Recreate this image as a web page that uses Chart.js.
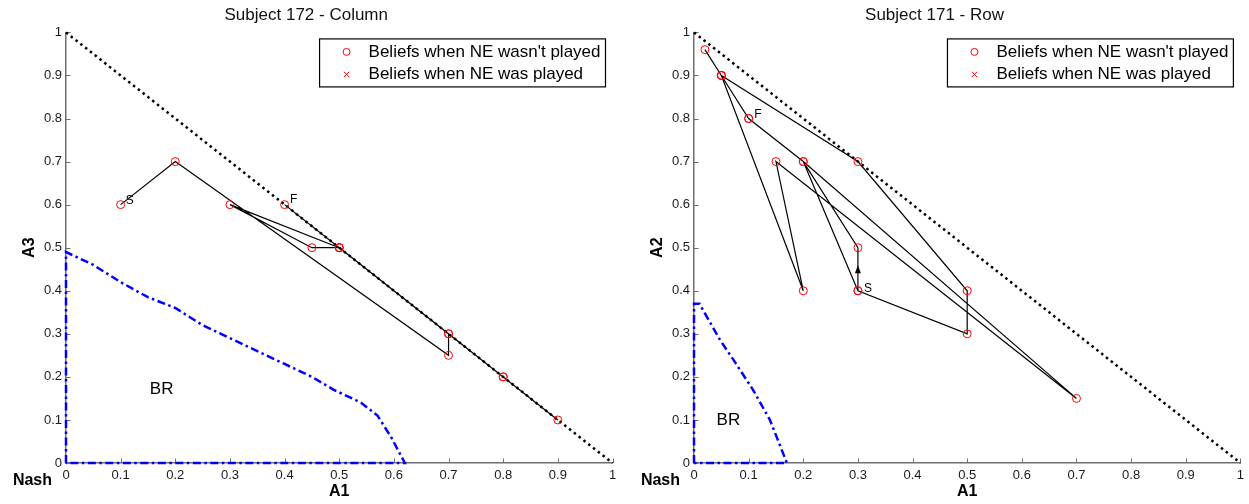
<!DOCTYPE html>
<html>
<head>
<meta charset="utf-8">
<script src="https://cdn.jsdelivr.net/npm/chart.js@4.4.1/dist/chart.umd.min.js"></script>
<style>
  html, body { margin: 0; padding: 0; background: #fff; }
  #wrap { display: flex; width: 1249px; height: 504px; }
  canvas { display: block; }
</style>
</head>
<body>
<div id="wrap">
  <canvas id="colChart" width="628" height="504"></canvas>
  <canvas id="rowChart" width="621" height="504"></canvas>
</div>
<script>
// ---------- shared ----------
const tickValues = [0, 0.1, 0.2, 0.3, 0.4, 0.5, 0.6, 0.7, 0.8, 0.9, 1];
const simplexX = [0, 1];
const simplexY = [1, 0];
const legendLabels = ["Beliefs when NE wasn't played", "Beliefs when NE was played"];

// ---------- Subject 172, column player ----------
const colTitle = 'Subject 172 - Column';
const colAxisX = 'A1';
const colAxisY = 'A3';
// belief trajectory, in the order the beliefs were formed (S first, F last)
const colPathA1 = [0.1, 0.2, 0.7, 0.7, 0.8, 0.9, 0.5, 0.8, 0.7, 0.5, 0.45, 0.3, 0.5, 0.4];
const colPathA3 = [0.6, 0.7, 0.25, 0.3, 0.2, 0.1, 0.5, 0.2, 0.3, 0.5, 0.5, 0.6, 0.5, 0.6];
// beliefs recorded when the equilibrium was played (none)
const colNeA1 = [];
const colNeA3 = [];
// best-response region boundary
const colBrA1 = [0, 0, 0.05, 0.1, 0.15, 0.2, 0.25, 0.3, 0.35, 0.4, 0.45, 0.49, 0.54, 0.57, 0.595, 0.62, 0];
const colBrA3 = [0, 0.49, 0.46, 0.42, 0.385, 0.36, 0.32, 0.29, 0.26, 0.23, 0.2, 0.17, 0.14, 0.11, 0.06, 0, 0];
const colBrLabel = [0.175, 0.17];

// ---------- Subject 171, row player ----------
const rowTitle = 'Subject 171 - Row';
const rowAxisX = 'A1';
const rowAxisY = 'A2';
const rowPathA1 = [0.3, 0.3, 0.2, 0.3, 0.5, 0.5, 0.3, 0.05, 0.2, 0.15, 0.7, 0.2, 0.1, 0.05, 0.02, 0.05, 0.1];
const rowPathA2 = [0.4, 0.5, 0.7, 0.4, 0.3, 0.4, 0.7, 0.9, 0.4, 0.7, 0.15, 0.7, 0.8, 0.9, 0.96, 0.9, 0.8];
const rowNeA1 = [];
const rowNeA2 = [];
const rowBrA1 = [0, 0, 0.01, 0.048, 0.072, 0.108, 0.139, 0.17, 0];
const rowBrA2 = [0, 0.37, 0.37, 0.285, 0.24, 0.17, 0.1, 0, 0];
const rowBrLabel = [0.063, 0.1];

const FONT = '"Liberation Sans", Arial, Helvetica, sans-serif';
const toPoints = (xs, ys) => xs.map((v, i) => ({ x: v, y: ys[i] }));

// Extra drawing: inward ticks, S/F/BR/Nash labels, start arrow, boxed legend
const decorPlugin = {
  id: 'decor',
  beforeDatasetsDraw(chart) {
    const { ctx, chartArea, scales: { x, y } } = chart;
    ctx.save();
    ctx.strokeStyle = '#6e6e6e';
    ctx.lineWidth = 1;
    for (const v of tickValues) {
      const px = Math.round(x.getPixelForValue(v)) + 0.5;
      ctx.beginPath();
      ctx.moveTo(px, chartArea.bottom);
      ctx.lineTo(px, chartArea.bottom - 4.5);
      ctx.stroke();
      const py = Math.round(y.getPixelForValue(v)) + 0.5;
      ctx.beginPath();
      ctx.moveTo(chartArea.left, py);
      ctx.lineTo(chartArea.left + 4.5, py);
      ctx.stroke();
    }
    ctx.restore();
  },
  afterDatasetsDraw(chart, args, opts) {
    const { ctx, chartArea, scales: { x, y } } = chart;
    const path = chart.data.datasets.find(d => d.role === 'path').data;
    ctx.save();
    ctx.fillStyle = '#000';
    ctx.textBaseline = 'middle';

    // start / finish labels
    ctx.font = '12px ' + FONT;
    ctx.textAlign = 'left';
    const s = path[0], f = path[path.length - 1];
    ctx.fillText('S', x.getPixelForValue(s.x) + opts.sOffset[0], y.getPixelForValue(s.y) + opts.sOffset[1]);
    ctx.fillText('F', x.getPixelForValue(f.x) + opts.fOffset[0], y.getPixelForValue(f.y) + opts.fOffset[1]);

    // BR region label
    ctx.font = '17px ' + FONT;
    ctx.textAlign = 'center';
    ctx.fillText('BR', x.getPixelForValue(opts.brLabel[0]), y.getPixelForValue(opts.brLabel[1]));

    // origin label
    ctx.font = 'bold 16px ' + FONT;
    ctx.textAlign = 'right';
    ctx.fillText('Nash', chartArea.left - 14, chartArea.bottom + 18);

    // direction arrow on the first step
    if (opts.arrow) {
      const x0 = x.getPixelForValue(path[0].x), y0 = y.getPixelForValue(path[0].y);
      const x1 = x.getPixelForValue(path[1].x), y1 = y.getPixelForValue(path[1].y);
      const mx = (x0 + x1) / 2, my = (y0 + y1) / 2;
      const a = Math.atan2(y1 - y0, x1 - x0);
      const len = 8, hw = 3;
      ctx.translate(mx, my);
      ctx.rotate(a);
      ctx.beginPath();
      ctx.moveTo(len / 2, 0);
      ctx.lineTo(-len / 2, -hw);
      ctx.lineTo(-len / 2, hw);
      ctx.closePath();
      ctx.fill();
      ctx.setTransform(1, 0, 0, 1, 0, 0);
    }

    // boxed legend in the upper right corner
    const items = chart.data.datasets.filter(d => d.inLegend);
    ctx.font = '17px ' + FONT;
    ctx.textAlign = 'left';
    const textW = Math.max(...items.map(d => ctx.measureText(d.label).width));
    const boxW = 49 + textW + 5;
    const boxH = 48;
    const bx = chartArea.right - 7 - boxW;
    const by = chartArea.top + 6.5;
    ctx.fillStyle = '#fff';
    ctx.fillRect(bx, by, boxW, boxH);
    ctx.strokeStyle = '#000';
    ctx.lineWidth = 1.2;
    ctx.strokeRect(bx, by, boxW, boxH);
    items.forEach((d, i) => {
      const cy = by + 13 + i * 22.5;
      const mx = bx + 27;
      ctx.strokeStyle = d.pointBorderColor;
      ctx.lineWidth = 1;
      ctx.beginPath();
      if (d.pointStyle === 'circle') {
        ctx.arc(mx, cy, 3.5, 0, Math.PI * 2);
      } else {
        ctx.moveTo(mx - 2.6, cy - 2.6); ctx.lineTo(mx + 2.6, cy + 2.6);
        ctx.moveTo(mx - 2.6, cy + 2.6); ctx.lineTo(mx + 2.6, cy - 2.6);
      }
      ctx.stroke();
      ctx.fillStyle = '#000';
      ctx.fillText(d.label, bx + 49, cy);
    });
    ctx.restore();
  }
};

function makeChart(id, cfg) {
  const tickFont = { family: FONT, size: 13 };
  return new Chart(document.getElementById(id), {
    type: 'scatter',
    data: {
      datasets: [
        {
          label: legendLabels[0], inLegend: true,
          data: toPoints(cfg.pathX, cfg.pathY),
          showLine: false, pointStyle: 'circle', pointRadius: 4,
          pointBorderColor: '#ff0000', pointBackgroundColor: 'rgba(0,0,0,0)',
          pointBorderWidth: 1, clip: false
        },
        {
          label: legendLabels[1], inLegend: true,
          data: toPoints(cfg.neX, cfg.neY),
          showLine: false, pointStyle: 'crossRot', pointRadius: 3.5,
          pointBorderColor: '#ff0000', pointBorderWidth: 1, clip: false
        },
        {
          label: 'trajectory', role: 'path',
          data: toPoints(cfg.pathX, cfg.pathY),
          showLine: true, borderColor: '#000', borderWidth: 1.2,
          pointRadius: 0, tension: 0, clip: false
        },
        {
          label: 'BR',
          data: toPoints(cfg.brX, cfg.brY),
          showLine: true, borderColor: '#0000ff', borderWidth: 2.5,
          borderDash: [8, 3.5, 2.5, 3.5], pointRadius: 0, tension: 0, clip: false
        },
        {
          label: 'simplex',
          data: toPoints(simplexX, simplexY),
          showLine: true, borderColor: '#000', borderWidth: 2.5,
          borderDash: [2.5, 3.6], pointRadius: 0, clip: false
        }
      ]
    },
    options: {
      responsive: false,
      animation: false,
      devicePixelRatio: 1,
      layout: { padding: { left: 0, right: cfg.padRight, top: 0, bottom: 0 } },
      scales: {
        x: {
          type: 'linear', min: 0, max: 1, position: 'bottom',
          afterFit(s) { s.height = 41; },
          grid: { display: false, drawTicks: false },
          border: { display: true, color: '#6e6e6e', width: 1.5 },
          ticks: {
            stepSize: 0.1, padding: 5, color: '#1a1a1a', font: tickFont,
            autoSkip: false, maxRotation: 0,
            callback: v => String(Math.round(v * 10) / 10)
          },
          title: {
            display: true, text: cfg.axisX, color: '#000',
            font: { family: FONT, size: 16, weight: 'bold' },
            padding: { top: 0, bottom: 3 }
          }
        },
        y: {
          type: 'linear', min: 0, max: 1, position: 'left',
          afterFit(s) { s.width = 66; },
          grid: { display: false, drawTicks: false },
          border: { display: true, color: '#6e6e6e', width: 1.5 },
          ticks: {
            stepSize: 0.1, padding: 4, color: '#1a1a1a', font: tickFont,
            autoSkip: false,
            callback: v => String(Math.round(v * 10) / 10)
          },
          title: {
            display: true, text: cfg.axisY, color: '#000',
            font: { family: FONT, size: 16, weight: 'bold' },
            padding: { top: 19.5, bottom: 0 }
          }
        }
      },
      plugins: {
        legend: { display: false },
        tooltip: { enabled: false },
        title: {
          display: true, text: cfg.title, color: '#111',
          font: { family: FONT, size: 17, weight: 'normal' },
          padding: { top: 5, bottom: 7 }
        },
        decor: {
          brLabel: cfg.brLabel, arrow: cfg.arrow,
          sOffset: cfg.sOffset, fOffset: cfg.fOffset
        }
      }
    },
    plugins: [decorPlugin]
  });
}

makeChart('colChart', {
  title: colTitle, axisX: colAxisX, axisY: colAxisY,
  pathX: colPathA1, pathY: colPathA3, neX: colNeA1, neY: colNeA3,
  brX: colBrA1, brY: colBrA3, brLabel: colBrLabel,
  arrow: false, sOffset: [5, -4], fOffset: [5.5, -5], padRight: 15.5
});

makeChart('rowChart', {
  title: rowTitle, axisX: rowAxisX, axisY: rowAxisY,
  pathX: rowPathA1, pathY: rowPathA2, neX: rowNeA1, neY: rowNeA2,
  brX: rowBrA1, brY: rowBrA2, brLabel: rowBrLabel,
  arrow: true, sOffset: [6, -2], fOffset: [5.5, -4], padRight: 8
});
</script>
</body>
</html>
